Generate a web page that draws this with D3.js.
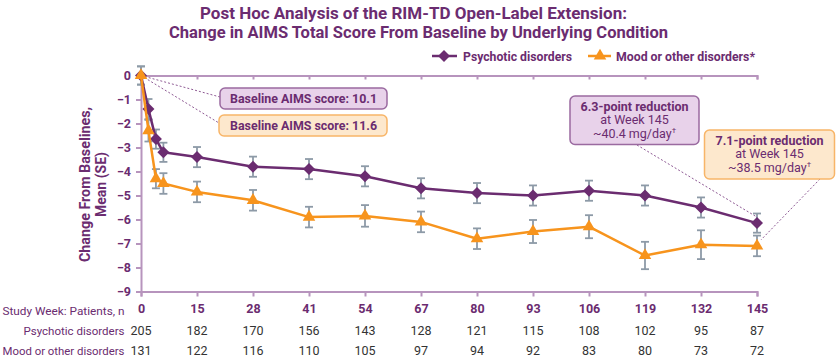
<!DOCTYPE html>
<html><head><meta charset="utf-8">
<script src="https://cdn.jsdelivr.net/npm/d3@7"></script>
<style>
html,body{margin:0;padding:0;background:#fff;}
svg{display:block;}
</style></head>
<body><svg id="chart" width="836" height="358"></svg>
<script>
// ---- data ----
const weeks = [0, 2, 4, 6, 15, 28, 41, 54, 67, 80, 93, 106, 119, 132, 145];
const psychotic = [0, -1.4, -2.65, -3.2, -3.4, -3.8, -3.9, -4.2, -4.7, -4.9, -5.0, -4.8, -5.0, -5.5, -6.15];
const psychoticSE = [0.38, 0.42, 0.4, 0.4, 0.42, 0.42, 0.42, 0.42, 0.42, 0.42, 0.42, 0.42, 0.42, 0.42, 0.4];
const mood = [0, -2.3, -4.3, -4.5, -4.85, -5.2, -5.9, -5.85, -6.1, -6.8, -6.5, -6.3, -7.5, -7.05, -7.1];
const moodSE = [0.38, 0.45, 0.4, 0.43, 0.43, 0.43, 0.43, 0.45, 0.43, 0.43, 0.48, 0.48, 0.57, 0.6, 0.43];
const tickWeeks = [0, 15, 28, 41, 54, 67, 80, 93, 106, 119, 132, 145];
const nPsychotic = [205, 182, 170, 156, 143, 128, 121, 115, 108, 102, 95, 87];
const nMood = [131, 122, 116, 110, 105, 97, 94, 92, 83, 80, 73, 72];
const yTicks = [0, -1, -2, -3, -4, -5, -6, -7, -8, -9];
const seriesNames = ["Psychotic disorders", "Mood or other disorders*"];
const rowLabels = ["Study Week: Patients, n", "Psychotic disorders", "Mood or other disorders"];
const titleLines = ["Post Hoc Analysis of the RIM-TD Open-Label Extension:",
                    "Change in AIMS Total Score From Baseline by Underlying Condition"];

// ---- styles ----
const PURPLE = "#6b2c70", ORANGE = "#f7941d", AXIS = "#b794bd", ERR = "#8d9aa7";
const FONT = "Roboto, 'Noto Sans', sans-serif";

const svg = d3.select("#chart");
const x = d3.scaleLinear().domain([0, 15, 145]).range([141, 197, 757]);
const y = d3.scaleLinear().domain([-9, 0]).range([291.5, 75.5]);

// title
svg.append("g").selectAll("text").data(titleLines).join("text")
  .attr("x", (d, i) => [413.5, 418.5][i]).attr("y", (d, i) => 18.5 + i * 19.5)
  .attr("text-anchor", "middle").attr("font-family", FONT)
  .attr("font-weight", "bold").attr("font-size", 17).attr("fill", PURPLE)
  .attr("textLength", (d, i) => [427, 499][i]).attr("lengthAdjust", "spacingAndGlyphs")
  .text(d => d);

// axes
const axG = svg.append("g");
const bottomAxis = d3.axisBottom(x).tickValues(tickWeeks).tickSize(5).tickPadding(8);
const gB = axG.append("g").attr("transform", `translate(0,${y(-9)})`).call(bottomAxis);
gB.select(".domain").attr("stroke", AXIS).attr("stroke-width", 2);
gB.selectAll(".tick line").attr("stroke", AXIS).attr("stroke-width", 2);
gB.selectAll(".tick text").attr("font-family", FONT).attr("font-size", 12.5)
  .attr("font-weight", "bold").attr("fill", PURPLE);

const topAxis = d3.axisBottom(x).tickValues(tickWeeks).tickSize(4).tickFormat("");
const gT = axG.append("g").attr("transform", `translate(0,${y(0)})`).call(topAxis);
gT.select(".domain").attr("stroke", AXIS).attr("stroke-width", 2);
gT.selectAll(".tick line").attr("stroke", AXIS).attr("stroke-width", 2);

const leftAxis = d3.axisLeft(y).tickValues(yTicks).tickSize(5).tickPadding(5).tickFormat(d3.format("d"));
const gL = axG.append("g").attr("transform", `translate(${x(0)},0)`).call(leftAxis);
gL.select(".domain").attr("stroke", AXIS).attr("stroke-width", 2);
gL.selectAll(".tick line").attr("stroke", AXIS).attr("stroke-width", 2);
gL.selectAll(".tick text").attr("font-family", FONT).attr("font-size", 12.5)
  .attr("font-weight", "bold").attr("fill", PURPLE);

// y label
const yl = svg.append("text").attr("transform", "translate(90,184.5) rotate(-90)")
  .attr("text-anchor", "middle").attr("font-family", FONT).attr("font-weight", "bold")
  .attr("font-size", 14).attr("fill", PURPLE);
yl.append("tspan").attr("x", 0).attr("dy", 0).attr("textLength", 155).attr("lengthAdjust", "spacingAndGlyphs").text("Change From Baselines,");
yl.append("tspan").attr("x", 0).attr("dy", 16).text("Mean (SE)");

// connector dotted lines
const conn = svg.append("g").attr("stroke", "#8e5a94").attr("stroke-width", 1)
  .attr("stroke-dasharray", "2,2").attr("fill", "none");
conn.append("line").attr("x1", x(0)).attr("y1", y(0)).attr("x2", 220).attr("y2", 97);
conn.append("line").attr("x1", x(0)).attr("y1", y(0)).attr("x2", 219).attr("y2", 123);
conn.append("line").attr("x1", 637).attr("y1", 145).attr("x2", x(145)).attr("y2", y(psychotic[14]) - 6);
conn.append("line").attr("x1", 820).attr("y1", 179).attr("x2", x(145) + 4).attr("y2", y(mood[14]) - 6);

// boxes
function box(x0, y0, w, h, fill, stroke) {
  svg.append("rect").attr("x", x0).attr("y", y0).attr("width", w).attr("height", h)
    .attr("rx", 5).attr("fill", fill).attr("stroke", stroke).attr("stroke-width", 1.5);
}
box(220, 88, 167, 21, "#e8d2ea", "#9a6aa0");
box(219, 115, 168, 21, "#fde8cd", "#f8b568");
[["Baseline AIMS score: 10.1", 103], ["Baseline AIMS score: 11.6", 130]].forEach(([t, yy]) => {
  svg.append("text").attr("x", 303.5).attr("y", yy).attr("text-anchor", "middle")
    .attr("font-family", FONT).attr("font-weight", "bold").attr("font-size", 12.5).attr("fill", PURPLE)
    .attr("textLength", 147).attr("lengthAdjust", "spacingAndGlyphs").text(t);
});

box(570, 96, 129, 48.5, "#e8d2ea", "#9a6aa0");
box(704.5, 130, 130, 49, "#fde8cd", "#f8b568");
function boxText(cx, y0, lines) {
  const t = svg.append("text").attr("text-anchor", "middle").attr("font-family", FONT)
    .attr("font-size", 12.5).attr("fill", PURPLE);
  lines.forEach((l, i) => {
    const ts = t.append("tspan").attr("x", cx).attr("y", y0 + i * 13.4).attr("font-weight", i === 0 ? "bold" : "normal");
    if (l.endsWith("†")) {
      ts.text(l.slice(0, -1));
      ts.append("tspan").attr("font-size", 8).attr("dy", -5).text("†");
    } else ts.text(l);
  });
}
boxText(634.5, 111, ["6.3-point reduction", "at Week 145", "~40.4 mg/day†"]);
boxText(769.5, 145, ["7.1-point reduction", "at Week 145", "~38.5 mg/day†"]);

// error bars
const series = [
  {vals: psychotic, se: psychoticSE, color: PURPLE, sym: "diamond"},
  {vals: mood, se: moodSE, color: ORANGE, sym: "triangle"}
];
const eg = svg.append("g").attr("stroke", ERR).attr("stroke-width", 1.8);
series.forEach(s => {
  weeks.forEach((w, i) => {
    const cx = x(w), y1 = y(s.vals[i] + s.se[i]), y2 = y(s.vals[i] - s.se[i]);
    eg.append("line").attr("x1", cx).attr("x2", cx).attr("y1", y1).attr("y2", y2);
    eg.append("line").attr("x1", cx - 4).attr("x2", cx + 4).attr("y1", y1).attr("y2", y1);
    eg.append("line").attr("x1", cx - 4).attr("x2", cx + 4).attr("y1", y2).attr("y2", y2);
  });
});

// lines & markers
const line = d3.line().x((d, i) => x(weeks[i])).y(d => y(d));
const diamond = d3.symbol().type(d3.symbolSquare).size(72);
const triangle = d3.symbol().type(d3.symbolTriangle).size(68);
series.forEach(s => {
  svg.append("path").datum(s.vals).attr("d", line).attr("fill", "none")
    .attr("stroke", s.color).attr("stroke-width", 2.5).attr("stroke-linejoin", "round");
  svg.append("g").selectAll("path").data(s.vals).join("path")
    .attr("d", s.sym === "diamond" ? diamond : triangle)
    .attr("transform", (d, i) => `translate(${x(weeks[i])},${y(d)})` + (s.sym === "diamond" ? " rotate(45)" : ""))
    .attr("fill", s.color);
});

// legend
const lg = svg.append("g");
[[432, 457, 444, 463, 0, 109], [588, 611, 600, 616, 1, 139]].forEach(([a, b, c, tx, k, tl]) => {
  const s = series[k];
  lg.append("line").attr("x1", a).attr("x2", b).attr("y1", 56).attr("y2", 56)
    .attr("stroke", s.color).attr("stroke-width", 2.5);
  lg.append("path").attr("d", k === 0 ? diamond : triangle)
    .attr("transform", `translate(${c},56)` + (k === 0 ? " rotate(45)" : "")).attr("fill", s.color);
  lg.append("text").attr("x", tx).attr("y", 60.5).attr("font-family", FONT).attr("font-weight", "bold")
    .attr("font-size", 12.5).attr("fill", PURPLE)
    .attr("textLength", tl).attr("lengthAdjust", "spacingAndGlyphs").text(seriesNames[k]);
});

// table
const tbl = svg.append("g").attr("font-family", FONT).attr("font-size", 12.5);
const rowY = [315, 334.5, 354.5], rowLen = [122, 101, 122];
rowLabels.forEach((t, i) => {
  tbl.append("text").attr("x", 124.5).attr("y", rowY[i]).attr("text-anchor", "end").attr("fill", PURPLE)
    .attr("font-size", 11.5)
    .attr("textLength", rowLen[i]).attr("lengthAdjust", "spacingAndGlyphs").text(t);
});
tbl.append("g").selectAll("text").data(nPsychotic).join("text")
  .attr("x", (d, i) => x(tickWeeks[i])).attr("y", rowY[1]).attr("text-anchor", "middle").attr("fill", "#333").text(d => d);
tbl.append("g").selectAll("text").data(nMood).join("text")
  .attr("x", (d, i) => x(tickWeeks[i])).attr("y", rowY[2]).attr("text-anchor", "middle").attr("fill", "#333").text(d => d);
</script></body></html>
